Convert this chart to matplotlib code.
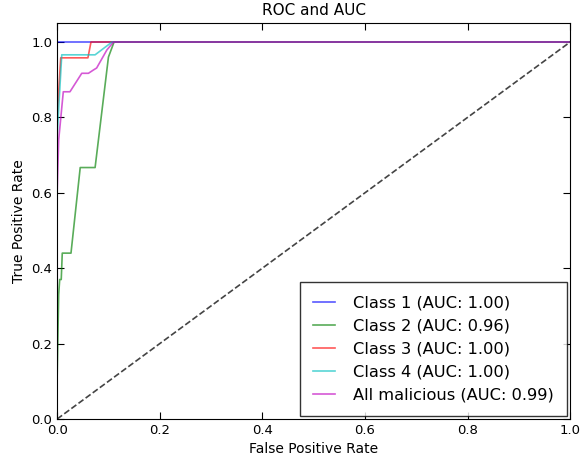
import matplotlib
matplotlib.use("Agg")
import matplotlib.pyplot as plt

# ROC curve points (fpr, tpr) per class
fpr_c1 = [0.0, 0.0, 1.0]
tpr_c1 = [0.0, 1.0, 1.0]

fpr_c2 = [0.0, 0.0, 0.003, 0.005, 0.008, 0.010, 0.027, 0.045, 0.074, 0.100, 0.111, 1.0]
tpr_c2 = [0.0, 0.11, 0.33, 0.37, 0.37, 0.44, 0.44, 0.667, 0.667, 0.96, 1.0, 1.0]

fpr_c3 = [0.0, 0.0, 0.007, 0.060, 0.066, 1.0]
tpr_c3 = [0.0, 0.80, 0.958, 0.958, 1.0, 1.0]

fpr_c4 = [0.0, 0.0, 0.009, 0.074, 0.107, 1.0]
tpr_c4 = [0.0, 0.75, 0.966, 0.966, 1.0, 1.0]

fpr_all = [0.0, 0.0, 0.003, 0.012, 0.025, 0.048, 0.061, 0.071, 0.077, 0.097, 0.110, 1.0]
tpr_all = [0.0, 0.60, 0.74, 0.868, 0.868, 0.917, 0.917, 0.926, 0.931, 0.979, 1.0, 1.0]

labels = ["Class 1", "Class 2", "Class 3", "Class 4", "All malicious"]
aucs = [1.00, 0.96, 1.00, 1.00, 0.99]
colors = ["#0000ff", "#008000", "#ff0000", "#00bfbf", "#bf00bf"]

fig = plt.figure(figsize=(5.83, 4.63), dpi=100)
ax = fig.add_axes([0.098, 0.095, 0.880, 0.855])

curves = [(fpr_c1, tpr_c1), (fpr_c2, tpr_c2), (fpr_c3, tpr_c3),
          (fpr_c4, tpr_c4), (fpr_all, tpr_all)]
for (fpr, tpr), name, auc, col in zip(curves, labels, aucs, colors):
    ax.plot(fpr, tpr, color=col, alpha=0.65, lw=1.2,
            label=f"{name} (AUC: {auc:.2f})")

ax.plot([0, 1], [0, 1], "--", color="#444444", lw=1.2)

ax.set_xlim(0, 1.0)
ax.set_ylim(0, 1.05)
ax.set_xticks([0.0, 0.2, 0.4, 0.6, 0.8, 1.0])
ax.set_yticks([0.0, 0.2, 0.4, 0.6, 0.8, 1.0])
ax.tick_params(direction="in", top=True, right=True, labelsize=9.5, length=5)
ax.set_title("ROC and AUC", fontsize=11)
ax.set_xlabel("False Positive Rate", fontsize=10)
ax.set_ylabel("True Positive Rate", fontsize=10)

leg = ax.legend(loc="lower right", fontsize=11.7, handlelength=1.4,
                handletextpad=1.1, labelspacing=0.5, borderpad=0.8,
                borderaxespad=0.2, fancybox=False)
leg.get_frame().set_edgecolor("black")

fig.savefig("out.png", dpi=100)
